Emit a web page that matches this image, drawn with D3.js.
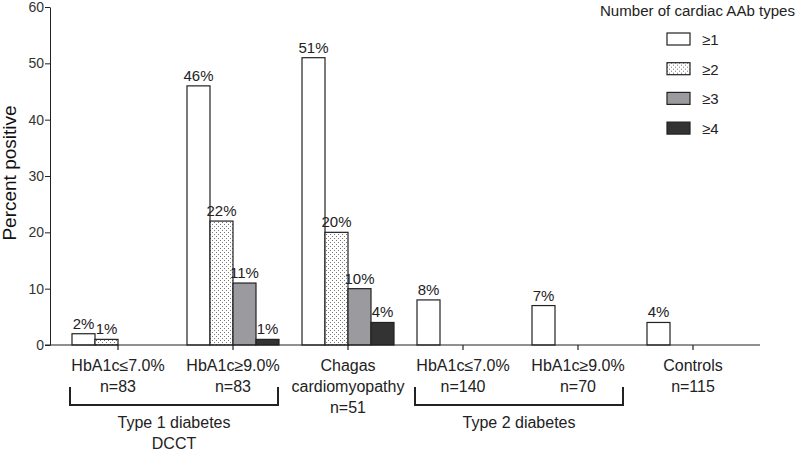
<!DOCTYPE html>
<html>
<head>
<meta charset="utf-8">
<script src="https://cdn.jsdelivr.net/npm/d3@7"></script>
<style>
  body { margin: 0; background: #fff; }
  svg { font-family: "Liberation Sans", Arial, sans-serif; }
</style>
</head>
<body>
<svg id="chart" width="800" height="451"></svg>
<script>
// data
const groups = [
  ["HbA1c≤7.0%", "n=83"],
  ["HbA1c≥9.0%", "n=83"],
  ["Chagas", "cardiomyopathy", "n=51"],
  ["HbA1c≤7.0%", "n=140"],
  ["HbA1c≥9.0%", "n=70"],
  ["Controls", "n=115"]
];
const seriesNames = ["≥1", "≥2", "≥3", "≥4"];
const atLeast1 = [2, 46, 51, 8, 7, 4];
const atLeast2 = [1, 22, 20, null, null, null];
const atLeast3 = [null, 11, 10, null, null, null];
const atLeast4 = [null, 1, 4, null, null, null];
const yTicks = [0, 10, 20, 30, 40, 50, 60];
const brackets = [
  {from: 0, to: 1, label: ["Type 1 diabetes", "DCCT"]},
  {from: 3, to: 4, label: ["Type 2 diabetes"]}
];

const values = [atLeast1, atLeast2, atLeast3, atLeast4];
const ink = "#222";

const svg = d3.select("#chart");

// dotted fill for the >=2 bars
const defs = svg.append("defs");
const pat = defs.append("pattern")
  .attr("id", "dots")
  .attr("patternUnits", "userSpaceOnUse")
  .attr("width", 4).attr("height", 4);
pat.append("rect").attr("width", 4).attr("height", 4).attr("fill", "#fff");
pat.append("rect").attr("x", 0).attr("y", 0).attr("width", 1).attr("height", 1).attr("fill", "#777");
pat.append("rect").attr("x", 2).attr("y", 2).attr("width", 1).attr("height", 1).attr("fill", "#777");

const fills = ["#fff", "url(#dots)", "#9b9b9f", "#333"];

const x = d3.scaleBand()
  .domain(d3.range(groups.length))
  .range([60.5, 750.5]);
const xs = d3.scaleBand()
  .domain(seriesNames)
  .range([-46, 46]);
const y = d3.scaleLinear()
  .domain([0, 60])
  .range([345, 7]);

const center = i => x(i) + x.bandwidth() / 2;

// y axis
const yAxis = svg.append("g")
  .attr("transform", "translate(50,0)")
  .call(d3.axisLeft(y).tickValues(yTicks).tickSize(5).tickSizeOuter(0));
yAxis.select(".domain").attr("stroke", ink);
yAxis.selectAll(".tick line").attr("stroke", ink);
yAxis.selectAll(".tick text")
  .attr("font-size", 14).attr("fill", "#333")
  .attr("font-family", "Liberation Sans, Arial, sans-serif")
  .attr("x", -6);

svg.append("text")
  .attr("transform", "translate(16,173) rotate(-90)")
  .attr("text-anchor", "middle")
  .attr("font-size", 19)
  .attr("fill", "#111")
  .text("Percent positive");

// bars
seriesNames.forEach((s, k) => {
  const rows = values[k].map((v, i) => ({i, v})).filter(d => d.v !== null);
  svg.append("g").selectAll("rect")
    .data(rows)
    .join("rect")
    .attr("x", d => center(d.i) + xs(s))
    .attr("y", d => y(d.v))
    .attr("width", xs.bandwidth())
    .attr("height", d => y(0) - y(d.v))
    .attr("fill", fills[k])
    .attr("stroke", ink)
    .attr("stroke-width", 1.2);
  svg.append("g").selectAll("text")
    .data(rows)
    .join("text")
    .attr("x", d => center(d.i) + xs(s) + xs.bandwidth() / 2)
    .attr("y", d => y(d.v) - 5)
    .attr("text-anchor", "middle")
    .attr("font-size", 15)
    .attr("fill", ink)
    .text(d => d.v + "%");
});

// x axis
svg.append("line")
  .attr("x1", 45).attr("x2", 760)
  .attr("y1", y(0)).attr("y2", y(0))
  .attr("stroke", ink).attr("stroke-width", 1.2);
svg.append("g").selectAll("line")
  .data(groups)
  .join("line")
  .attr("x1", (d, i) => center(i)).attr("x2", (d, i) => center(i))
  .attr("y1", y(0)).attr("y2", y(0) + 5)
  .attr("stroke", ink).attr("stroke-width", 1.2);

const labels = svg.append("g").selectAll("text")
  .data(groups)
  .join("text")
  .attr("text-anchor", "middle")
  .attr("font-size", 16)
  .attr("fill", ink);
labels.selectAll("tspan")
  .data((d, i) => d.map(line => ({line, i})))
  .join("tspan")
  .attr("x", d => center(d.i))
  .attr("y", (d, j) => 371 + j * 21)
  .text(d => d.line);

// brackets under grouped categories
brackets.forEach(b => {
  const x0 = center(b.from) - 48, x1 = center(b.to) + 45;
  svg.append("path")
    .attr("d", `M${x0},387 V405 H${x1} V387`)
    .attr("fill", "none")
    .attr("stroke", ink)
    .attr("stroke-width", 2);
  b.label.forEach((t, j) => {
    svg.append("text")
      .attr("x", (x0 + x1) / 2)
      .attr("y", 428 + j * 21)
      .attr("text-anchor", "middle")
      .attr("font-size", 16)
      .attr("fill", ink)
      .text(t);
  });
});

// legend
svg.append("text")
  .attr("x", 600).attr("y", 16)
  .attr("font-size", 15.5)
  .attr("textLength", 195)
  .attr("lengthAdjust", "spacingAndGlyphs")
  .attr("fill", ink)
  .text("Number of cardiac AAb types");
const leg = svg.append("g").selectAll("g")
  .data(seriesNames)
  .join("g")
  .attr("transform", (d, k) => `translate(667,${33 + k * 29.7})`);
leg.append("rect")
  .attr("width", 23).attr("height", 12)
  .attr("fill", (d, k) => fills[k])
  .attr("stroke", ink).attr("stroke-width", 1.2);
leg.append("text")
  .attr("x", 35).attr("y", 12)
  .attr("font-size", 15)
  .attr("fill", ink)
  .text(d => d);
</script>
</body>
</html>
